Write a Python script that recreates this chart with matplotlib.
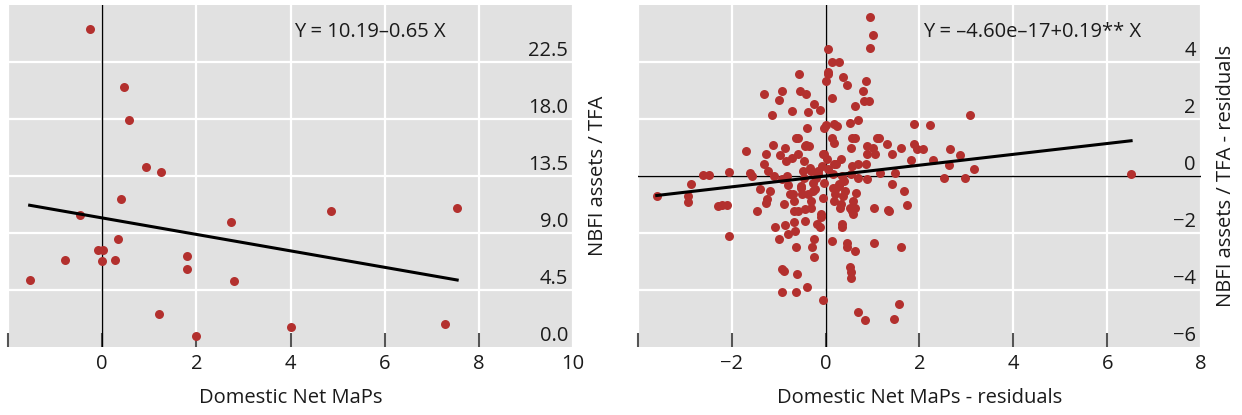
import numpy as np
import matplotlib
matplotlib.use("Agg")
import matplotlib.pyplot as plt
import matplotlib.transforms as mtransforms

plt.rcParams["font.family"] = ["Open Sans", "DejaVu Sans"]

# levy panel: surove hodnoty
maps_x = [-0.26, 0.46, 0.57, 0.93, 1.26, 0.40, -0.47, 4.87, 7.54, 2.73,
          0.33, -0.08, 0.01, -0.80, 0.00, 0.27, 1.80, 1.80, -1.54, 2.80,
          1.20, 4.00, 7.28, 1.99]
nbfi_y = [25.1, 20.5, 17.9, 14.2, 13.8, 11.65, 10.4, 10.7, 11.0, 9.87,
          8.56, 7.62, 7.64, 6.86, 6.78, 6.86, 7.15, 6.15, 5.29, 5.18,
          2.64, 1.60, 1.81, 0.86]
fit_left = (10.19, -0.65)

# pravy panel: rezidua
res_x = [-3.60, -2.94, -2.94, -2.87, -2.62, -2.49, -2.29, -2.20, -2.11, -2.07,
         -2.07, -1.70, -1.62, -1.56, -1.41, -1.46, -1.32, -1.32, -1.27, -1.27,
         -1.24, -1.22, -1.18, -1.14, -1.12, -1.10, -1.07, -0.99, -0.99, -0.97,
         -0.93, -0.93, -0.93, -0.93, -0.89, -0.89, -0.86, -0.86, -0.84, -0.82,
         -0.80, -0.80, -0.76, -0.72, -0.72, -0.70, -0.68, -0.68, -0.65, -0.63,
         -0.63, -0.61, -0.59, -0.59, -0.57, -0.55, -0.53, -0.51, -0.48, -0.46,
         -0.45, -0.45, -0.42, -0.41, -0.40, -0.40, -0.38, -0.36, -0.34, -0.31,
         -0.30, -0.28, -0.25, -0.25, -0.25, -0.23, -0.21, -0.19, -0.17, -0.13,
         -0.13, -0.11, -0.08, -0.06, -0.05, -0.03, 0.00, 0.00, 0.02, 0.04,
         0.05, 0.06, 0.13, 0.13, 0.13, 0.14, 0.15, 0.17, 0.19, 0.21,
         0.21, 0.25, 0.28, 0.28, 0.30, 0.34, 0.34, 0.35, 0.38, 0.40,
         0.42, 0.45, 0.46, 0.46, 0.51, 0.51, 0.52, 0.53, 0.53, 0.55,
         0.57, 0.59, 0.59, 0.62, 0.62, 0.62, 0.63, 0.68, 0.69, 0.68,
         0.80, 0.82, 0.84, 0.87, 0.87, 0.89, 0.89, 0.93, 0.94, 0.94,
         1.00, 1.01, 1.03, 1.04, 1.05, 1.10, 1.14, 1.16, 1.31, 1.32,
         1.36, 1.42, 1.42, 1.48, 1.56, 1.60, 1.61, 1.66, 1.73, 1.81,
         1.88, 1.88, 1.94, 2.07, 2.22, 2.29, 2.62, 2.66, 2.87, 2.96,
         3.08, 3.16, 2.53, 6.51,
         -0.64, -0.43, -0.04, 0.17, 0.32, -0.32, -0.17, -0.53, -0.38, -0.26,
         0.15, 0.28, 0.17, 0.32, -0.68, -0.60, -0.32, -0.11, 0.57, 0.53,
         0.68, 0.89, -0.04, 0.17, 0.57, -0.47, 0.06, -0.06, 0.38, 0.64, 1.45]
res_y = [-0.70, -0.70, -0.91, -0.27, 0.03, 0.03, -1.05, -1.01, -1.01, 0.14,
         -2.09, 0.87, 0.12, 0.00, -0.47, -1.22, 2.87, 0.41, 0.76, -0.93,
         -0.81, 0.17, -0.52, 2.15, 1.08, 0.00, -1.78, -2.21, 2.68, 0.73,
         2.97, -0.12, -3.26, -4.07, -3.32, -0.99, -1.71, 0.99, 0.52, 0.00,
         -0.33, -2.04, -0.64, 2.29, 0.64, -0.64, -1.22, -1.63, -1.92, -2.50,
         -4.07, -3.43, 1.34, 0.76, 3.57, 2.97, -0.35, -0.64, 0.17, -0.06,
         -1.16, -1.57, 2.87, 1.08, 1.69, -3.90, 2.23, 1.04, 0.29, -0.87,
         -2.50, -0.23, 2.54, -2.21, -2.85, -0.47, -0.06, -1.69, 0.17, 2.33,
         -1.80, -1.45, 0.35, 0.76, -4.36, -0.23, 3.32, 1.80, 0.58, 4.46,
         3.64, 3.57, 4.01, 2.73, 1.34, -2.27, 0.06, 1.16, -0.64, 0.41,
         -0.41, 1.75, 4.01, -0.35, -1.11, 0.00, -1.69, -1.80, 3.46, -0.17,
         -0.52, 3.20, -2.36, -2.50, 1.86, -1.11, -3.20, -3.37, -3.57, 0.99,
         0.35, -1.34, -0.87, -2.62, 2.44, 1.34, -1.11, 1.98, -4.77, -0.06,
         2.99, 2.64, -5.06, 3.32, 0.41, 0.78, -0.12, 2.62, 5.57, 4.48,
         4.94, 0.99, -1.11, -2.36, 0.78, 1.34, 1.34, 0.12, 1.13, -1.20,
         -1.22, 0.76, -0.29, 0.12, -4.48, -2.48, 0.99, -0.52, -1.01, 0.55,
         1.83, 1.11, 0.93, 0.93, 1.78, 0.57, 0.37, 0.95, 0.73, -0.06,
         2.13, 0.23, -0.06, 0.08,
         1.33, 1.05, 0.77, 0.42, 0.59, 0.17, 0.07, -0.42, -0.63, -0.52,
         -0.42, -0.28, -0.87, -0.98, -0.87, -1.22, -1.12, -1.33, -1.22, 0.07,
         0.42, 1.05, 1.68, 1.82, 1.33, 0.52, 0.24, -0.77, -0.70, -0.59, -5.03]
fit_right = (-4.60e-17, 0.19)

left_xticks = [-2, 0, 2, 4, 6, 8, 10]
left_yticks = [0.0, 4.5, 9.0, 13.5, 18.0, 22.5]
left_ylim = (0, 27)
right_xticks = [-4, -2, 0, 2, 4, 6, 8]
right_yticks = [-6, -4, -2, 0, 2, 4]
right_ylim = (-6, 6)

DOT = "#b3302e"
BG = "#e1e1e1"
TXT = "#1a1a1a"
FS = 14.5


def mfmt(v, dec):
    s = f"{v:.{dec}f}"
    return s.replace("-", "\u2212")


def panel(ax, x, y, fit, xticks, yticks, ylim, ydec, eq, eq_x, xlabel, ylabel, hzero=False):
    ax.set_facecolor(BG)
    for s in ax.spines.values():
        s.set_visible(False)
    ax.set_xlim(xticks[0], xticks[-1])
    ax.set_ylim(*ylim)

    ax.set_xticks(xticks)
    ax.set_xticklabels([""] + [mfmt(t, 0) for t in xticks[1:]])
    ax.tick_params(axis="x", direction="in", length=10, width=1.5, color="#555555",
                   pad=5, labelsize=FS, labelcolor=TXT)
    ax.xaxis.get_major_ticks()[-1].tick1line.set_visible(False)

    ax.set_yticks(yticks[1:])
    ax.tick_params(axis="y", length=0, labelleft=False)
    ax.grid(True, color="white", linewidth=1.6)
    ax.set_axisbelow(True)

    ax.axvline(0, color="black", lw=1.0, zorder=1.5)
    if hzero:
        ax.axhline(0, color="black", lw=1.0, zorder=1.5)

    # popisky osy y uvnitr grafu, nad mrizkou
    tr = mtransforms.blended_transform_factory(ax.transAxes, ax.transData)
    tr = mtransforms.offset_copy(tr, fig=ax.figure, x=0, y=6, units="dots")
    for v in yticks:
        ax.text(0.991, v, mfmt(v, ydec), transform=tr, ha="right", va="baseline",
                fontsize=FS, color=TXT)

    ax.scatter(x, y, s=42, color=DOT, linewidths=0, zorder=3)
    xs = np.array([min(x), max(x)])
    ax.plot(xs, fit[0] + fit[1] * xs, color="black", lw=2.2, zorder=4)

    ax.text(eq_x, 0.921, eq, transform=ax.transAxes, ha="center", va="center",
            fontsize=FS, color=TXT)

    ax.set_xlabel(xlabel, fontsize=FS, color=TXT)
    ax.xaxis.set_label_coords(0.5, -0.149)
    ax.xaxis.label.set_verticalalignment("center")
    ax.set_ylabel(ylabel, fontsize=FS, color=TXT)
    ax.yaxis.set_label_position("right")
    ax.yaxis.set_label_coords(1.044, 0.5)
    ax.yaxis.label.set_verticalalignment("center")


fig = plt.figure(figsize=(12.42, 4.15), dpi=100)
ax1 = fig.add_axes([8 / 1242, 68 / 415, 565 / 1242, 342 / 415])
ax2 = fig.add_axes([638 / 1242, 68 / 415, 563 / 1242, 342 / 415])

panel(ax1, maps_x, nbfi_y, fit_left, left_xticks, left_yticks, left_ylim, 1,
      "Y = 10.19\u20130.65 X", 0.64, "Domestic Net MaPs", "NBFI assets / TFA")
panel(ax2, res_x, res_y, fit_right, right_xticks, right_yticks, right_ylim, 0,
      "Y = \u20134.60e\u201317+0.19** X", 0.70, "Domestic Net MaPs - residuals",
      "NBFI assets / TFA - residuals", hzero=True)

fig.savefig("out.png", dpi=100)
